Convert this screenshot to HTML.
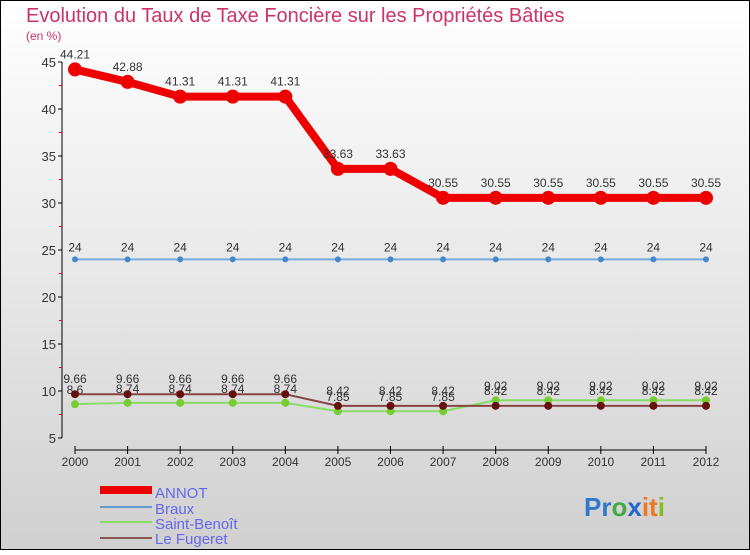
<!DOCTYPE html>
<html><head><meta charset="utf-8"><style>
body{margin:0;width:750px;height:550px;overflow:hidden}
svg text{font-family:"Liberation Sans",sans-serif}
</style></head><body>
<svg id="c" width="750" height="550" xmlns="http://www.w3.org/2000/svg">
<defs><linearGradient id="bg" x1="0" y1="0" x2="0" y2="1"><stop offset="0" stop-color="#ffffff"/><stop offset="1" stop-color="#d0d0d0"/></linearGradient></defs>
<rect x="0.5" y="0.5" width="749" height="549" fill="url(#bg)" stroke="#000"/>
<text x="26" y="22" font-size="20" fill="#cc3366">Evolution du Taux de Taxe Foncière sur les Propriétés Bâties</text>
<text x="26" y="40" font-size="12" fill="#cc3366">(en %)</text>
<g id="axes"></g><g id="series"></g>
<g>
<rect x="100" y="486" width="52" height="8" fill="#ee0000"/>
<text x="155" y="498" font-size="15" fill="#6666ee">ANNOT</text>
<rect x="100" y="506" width="52" height="2" fill="#6699cc"/>
<text x="155" y="514" font-size="15" fill="#6666ee">Braux</text>
<rect x="100" y="521" width="52" height="2" fill="#88dd66"/>
<text x="155" y="529" font-size="15" fill="#6666ee">Saint-Benoît</text>
<rect x="100" y="537" width="52" height="2" fill="#885555"/>
<text x="155" y="544" font-size="15" fill="#6666ee">Le Fugeret</text>
</g>
<text x="584" y="516" font-size="26" font-weight="bold"><tspan fill="#3377cc">Pr</tspan><tspan fill="#44aa44">o</tspan><tspan fill="#2266cc">x</tspan><tspan fill="#ee7722">it</tspan><tspan fill="#88bb22">i</tspan></text>
</svg>
<script>
const years=[2000,2001,2002,2003,2004,2005,2006,2007,2008,2009,2010,2011,2012];
const annot=[44.21,42.88,41.31,41.31,41.31,33.63,33.63,30.55,30.55,30.55,30.55,30.55,30.55];
const braux=[24,24,24,24,24,24,24,24,24,24,24,24,24];
const saintBenoit=[8.6,8.74,8.74,8.74,8.74,7.85,7.85,7.85,9.02,9.02,9.02,9.02,9.02];
const leFugeret=[9.66,9.66,9.66,9.66,9.66,8.42,8.42,8.42,8.42,8.42,8.42,8.42,8.42];
const yTicks=[5,10,15,20,25,30,35,40,45];
const NS="http://www.w3.org/2000/svg";
const X=i=>75+i*(706-75)/(years.length-1);
const Y=v=>438-(v-5)*(438-62)/40;
function mk(tag,attrs,parent){const e=document.createElementNS(NS,tag);for(const k in attrs)e.setAttribute(k,attrs[k]);parent.appendChild(e);return e;}
const ax=document.getElementById('axes'),sg=document.getElementById('series');
let l=mk('line',{x1:62,y1:Y(45),x2:62,y2:Y(5),stroke:'#000'},ax);


l=mk('line',{x1:X(0),y1:450,x2:X(12),y2:450,stroke:'#000'},ax);


yTicks.forEach(v=>{
 mk('line',{x1:58,y1:Y(v),x2:62,y2:Y(v),stroke:'#000'},ax);
 if(v<45)mk('line',{x1:59,y1:Y(v+2.5),x2:62,y2:Y(v+2.5),stroke:'#e00'},ax);
 const t=mk('text',{x:56,y:Y(v)+5,'font-size':13,fill:'#333','text-anchor':'end'},ax);t.textContent=v;
 
 
});
years.forEach((yr,i)=>{
 mk('line',{x1:X(i),y1:446,x2:X(i),y2:454,stroke:'#000'},ax);
 const t=mk('text',{x:X(i),y:466,'font-size':12,fill:'#333','text-anchor':'middle'},ax);t.textContent=yr;
 
 
});
function series(vals,color,lw,r,fill,name,labOff){
 const g=mk('g',{},sg);
 
 
 const p=mk('polyline',{points:vals.map((v,i)=>X(i)+','+Y(v)).join(' '),fill:'none',stroke:color,'stroke-width':lw,'stroke-linejoin':'round'},g);
 
 
 vals.forEach((v,i)=>{
  const c=mk('circle',{cx:X(i),cy:Y(v),r:r,fill:fill},g);
  
  
  const t=mk('text',{x:X(i),y:Y(v)-labOff,'font-size':12,fill:'#333','text-anchor':'middle'},g);t.textContent=v;
  
  
 });
}
series(saintBenoit,'#88dd66',2,4,'#77cc33','saint-benoit',10);
series(leFugeret,'#884444',2,4,'#661111','le-fugeret',11);
series(braux,'#77aadd',2,3,'#4488cc','braux',8);
series(annot,'#ee0000',8,7,'#ee0000','annot',11);
</script>
</body></html>
